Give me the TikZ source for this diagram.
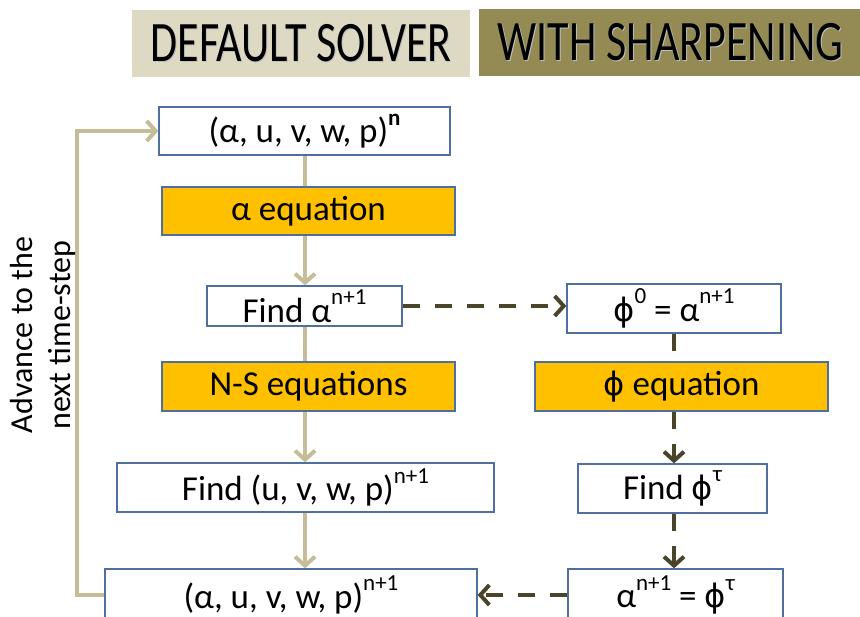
\documentclass[tikz,border=0pt]{standalone}
\usepackage{fontspec}
\setmainfont{Carlito}
\newfontfamily\phifont{DejaVu Sans}
\usetikzlibrary{arrows.meta}
\definecolor{cTan}{HTML}{C4BD97}
\definecolor{cDark}{HTML}{4A452A}
\definecolor{cHdrA}{HTML}{DDD9C3}
\definecolor{cHdrB}{HTML}{948A54}
\definecolor{cOrange}{HTML}{FFC000}
\definecolor{cBlue}{HTML}{4F6FA0}
\newcommand{\spx}[1]{\raisebox{0.5em}{\fontsize{23}{23}\selectfont #1}}
\newcommand{\ph}{{\phifont\scalebox{0.92}{ϕ}}}
\newcommand{\hdrtext}[1]{\scalebox{1}[1.3]{\fontsize{44}{44}\selectfont\rlap{\raisebox{-1pt}{\hspace{1pt}\color{black!25}#1}}#1}}
\tikzset{
  hdr/.style={inner sep=0pt, draw=none},
  wbox/.style={draw=cBlue, line width=1.3pt, fill=white, inner sep=0pt, font=\fontsize{35}{38}\selectfont},
  obox/.style={draw=cBlue, line width=2.6pt, fill=cOrange, inner sep=0pt, font=\fontsize{35}{38}\selectfont},
  tanline/.style={draw=cTan, line width=4pt},
  darkline/.style={draw=cDark, line width=4pt, dash pattern=on 17pt off 15pt},
  tip/.style={-{Straight Barb[length=9pt,width=20pt]}}
}
\begin{document}
\begin{tikzpicture}[x=1pt,y=-1pt]
\useasboundingbox (0,0) rectangle (860,617);
\clip (0,0) rectangle (860,617);

% headers
\node[hdr, fill=cHdrA, minimum width=338pt, minimum height=67pt] (h1) at (301,43.5) {\hdrtext{DEFAULT SOLVER}};
\node[hdr, fill=cHdrB, minimum width=383pt, minimum height=67pt] (h2) at (670.5,42.5) {\hdrtext{WITH SHARPENING}};

% column coordinates
\coordinate (colL) at (305,0);
\coordinate (colR) at (674,0);
\coordinate (loop) at (77,0);

% boxes
\node[wbox, minimum width=291pt, minimum height=48pt] (top) at (304.5,131) {(α, u, v, w, p)\spx{\bfseries n}};
\node[obox, minimum width=293pt, minimum height=48pt] (aeq) at (308.5,211) {α equation};
\node[wbox, minimum width=195pt, minimum height=40pt] (finda) at (304.5,306) {Find α\spx{n+1}};
\node[wbox, minimum width=214pt, minimum height=49pt] (phi0) at (674,308.5) {\ph\spx{0} = α\spx{n+1}};
\node[obox, minimum width=293pt, minimum height=49pt] (nseq) at (308.5,386.5) {N-S equations};
\node[obox, minimum width=293pt, minimum height=49pt] (phieq) at (681.5,386.5) {\ph{} equation};
\node[wbox, minimum width=377pt, minimum height=49pt] (fuvw) at (305.5,487.5) {Find (u, v, w, p)\spx{n+1}};
\node[wbox, minimum width=189pt, minimum height=49pt] (fphi) at (672.5,488.5) {Find \ph\spx{τ}};
\node[wbox, minimum width=372pt, minimum height=52pt] (bot) at (291,595) {\raisebox{2pt}{(α, u, v, w, p)\spx{n+1}}};
\node[wbox, minimum width=215pt, minimum height=52pt] (aphi) at (675.5,595) {\raisebox{2pt}{α\spx{n+1} = \ph\spx{τ}}};

% left column connectors
\draw[tanline] (top.south -| colL) -- (aeq.north -| colL);
\draw[tanline, tip] (aeq.south -| colL) -- (finda.north -| colL);
\draw[tanline] (finda.south -| colL) -- (nseq.north -| colL);
\draw[tanline, tip] (nseq.south -| colL) -- (fuvw.north -| colL);
\draw[tanline, tip] (fuvw.south -| colL) -- (bot.north -| colL);

% loop back
\draw[tanline, tip] (bot.west) -- (bot.west -| loop) -- (top.west -| loop) -- (top.west);

% right column connectors
\draw[darkline, tip] (finda.east) -- (finda.east -| phi0.west);
\draw[darkline] (phi0.south -| colR) -- (phieq.north -| colR);
\draw[darkline, tip] (phieq.south -| colR) -- (fphi.north -| colR);
\draw[darkline, tip] (fphi.south -| colR) -- (aphi.north -| colR);
\draw[darkline, tip] (aphi.west) -- (aphi.west -| bot.east);

% side label
\node[rotate=90, align=center, inner sep=0pt, font=\fontsize{32}{38}\selectfont] (adv) at (43,335) {Advance to the\\next time-step};
\end{tikzpicture}
\end{document}
